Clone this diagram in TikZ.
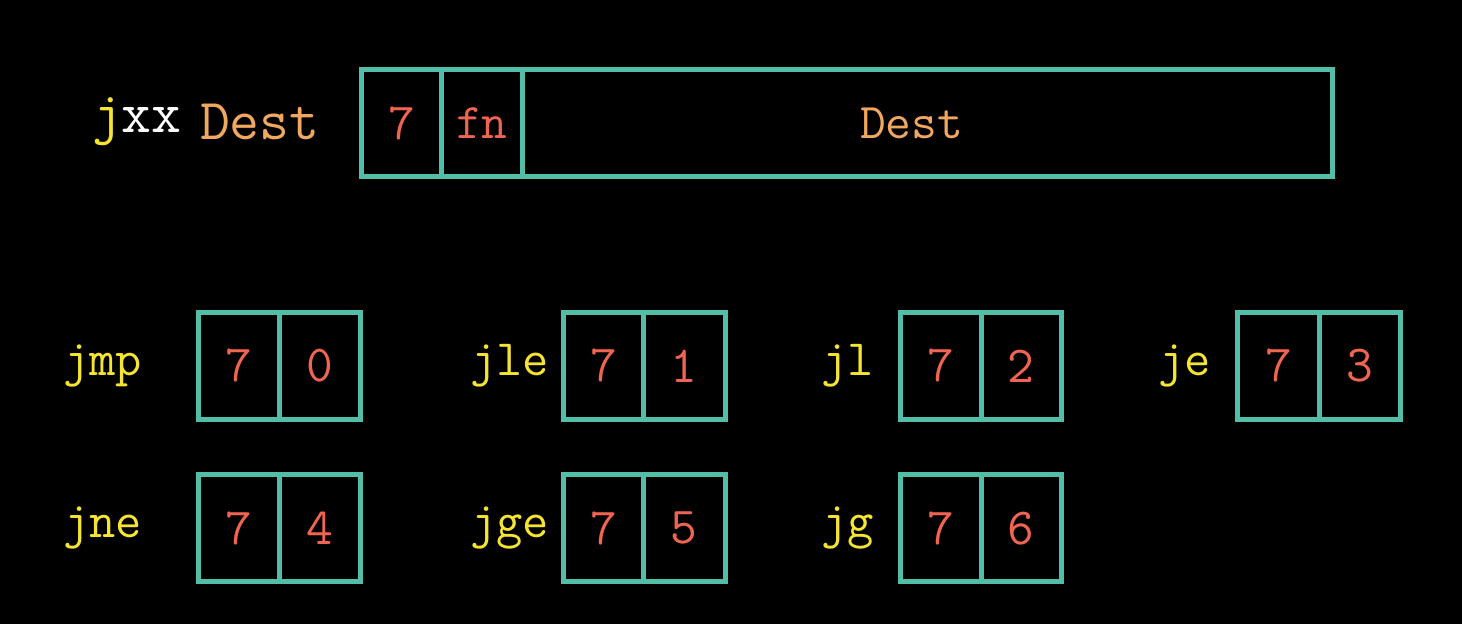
\documentclass[tikz,border=0pt]{standalone}
\usepackage{fontspec}
\setmonofont{Latin Modern Mono}
\definecolor{teal1}{RGB}{82,190,168}
\definecolor{redd}{RGB}{240,100,82}
\definecolor{orng}{RGB}{240,168,96}
\definecolor{yell}{RGB}{245,228,50}
\begin{document}
\begin{tikzpicture}[x=0.5pt,y=-0.5pt,
  every node/.style={font=\ttfamily\fontsize{26}{30}\selectfont},
  cell/.style={draw=teal1, line width=2.5pt, inner sep=0pt, outer sep=0pt, text=redd, minimum height=53.5pt},
  lbl/.style={anchor=base west, inner sep=0pt, outer sep=0pt, text=yell, font=\ttfamily\fontsize{25.5}{30}\selectfont},
  big/.style={anchor=base west, inner sep=0pt, outer sep=0pt, font=\ttfamily\fontsize{29}{34}\selectfont}]
\fill[black] (0,0) rectangle (1462,624);
\useasboundingbox (0,0) rectangle (1462,624);
% top instruction
\node[big, text=white] (jxx) at (92,133) {\textcolor{yell}{j}xx};
\node[big, text=orng] (dest) at (200,140) {Dest};
\node[cell, minimum width=40pt] (ta) at (401.5,123.25) {7};
\node[cell, minimum width=40.25pt, font=\ttfamily\fontsize{25}{30}\selectfont] (tb) at (481.75,123.25) {fn};
\node[cell, minimum width=405pt] (tc) at (927,123.25) {};
\node[inner sep=0pt, text=orng, font=\ttfamily\fontsize{25}{30}\selectfont] (tcl) at (911.5,123.25) {Dest};
% row 1
\node[lbl] (ljmp) at (63,376) {jmp};
\node[cell, minimum width=40.5pt] (a1) at (239,366) {7};
\node[cell, minimum width=40.5pt] (a2) at (320,366) {0};
\node[lbl] (ljle) at (470,376) {jle};
\node[cell, minimum width=40pt] (b1) at (603.5,366) {7};
\node[cell, minimum width=40.75pt] (b2) at (684.25,366) {1};
\node[lbl] (ljl) at (821,376) {jl};
\node[cell, minimum width=40.25pt] (c1) at (940.75,366) {7};
\node[cell, minimum width=40.25pt] (c2) at (1021.25,366) {2};
\node[lbl] (lje) at (1158,376) {je};
\node[cell, minimum width=41pt] (d1) at (1278.5,366) {7};
\node[cell, minimum width=40.25pt] (d2) at (1359.75,366) {3};
% row 2
\node[lbl] (ljne) at (63,538) {jne};
\node[cell, minimum width=40.5pt] (e1) at (239,528.25) {7};
\node[cell, minimum width=40.5pt] (e2) at (320,528.25) {4};
\node[lbl] (ljge) at (470,538) {jge};
\node[cell, minimum width=40pt] (f1) at (603.5,528.25) {7};
\node[cell, minimum width=40.75pt] (f2) at (684.25,528.25) {5};
\node[lbl] (ljg) at (821,538) {jg};
\node[cell, minimum width=40.25pt] (g1) at (940.75,528.25) {7};
\node[cell, minimum width=40.25pt] (g2) at (1021.25,528.25) {6};
\end{tikzpicture}
\end{document}
